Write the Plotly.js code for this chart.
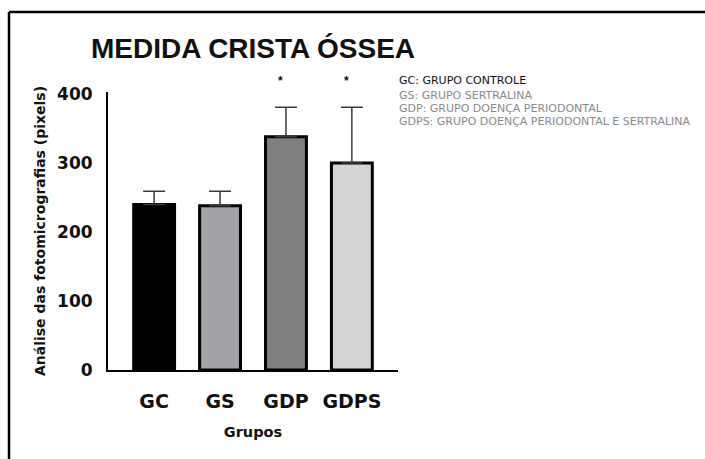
<!DOCTYPE html>
<html>
<head>
<meta charset="utf-8">
<script src="https://cdn.plot.ly/plotly-3.0.1.min.js"></script>
<style>
  html, body { margin: 0; padding: 0; background: #ffffff; }
  #chart { width: 705px; height: 459px; }
</style>
</head>
<body>
<div id="chart"></div>
<script>
// Groups and mean crest measurements (pixels) with upper error
const groups = ['GC', 'GS', 'GDP', 'GDPS'];
const means = [240, 238, 338, 300];
const errorsUp = [19, 21, 43, 81];
const barColors = ['#000000', '#a2a2a7', '#7f7f7f', '#d4d4d4'];
const significant = [false, false, true, true];
const yTicks = [0, 100, 200, 300, 400];
const legendLines = [
  'GC: GRUPO CONTROLE',
  'GS: GRUPO SERTRALINA',
  'GDP: GRUPO DOENÇA PERIODONTAL',
  'GDPS: GRUPO DOENÇA PERIODONTAL E SERTRALINA'
];

const W = 705, H = 459;
const M = { l: 108, r: 307, t: 92, b: 89 };
const plotW = W - M.l - M.r;
const plotH = H - M.t - M.b;
// convert page pixels to paper coordinates
const px = x => (x - M.l) / plotW;
const py = y => (H - M.b - y) / plotH;

const trace = {
  type: 'bar',
  x: groups,
  y: means,
  width: 0.62,
  marker: {
    color: barColors,
    line: { color: '#000000', width: 3 }
  },
  error_y: {
    type: 'data',
    symmetric: false,
    array: errorsUp,
    arrayminus: groups.map(() => 0),
    color: '#3a3a3a',
    thickness: 1.5,
    width: 11
  },
  hoverinfo: 'skip'
};

const annotations = [];
groups.forEach((g, i) => {
  if (significant[i]) {
    annotations.push({
      x: g, y: means[i] + errorsUp[i], xref: 'x', yref: 'y',
      text: '*', showarrow: false, xshift: -5, yshift: 26,
      yanchor: 'middle',
      font: { family: 'Liberation Sans, Arial, sans-serif', size: 12, color: '#111111', weight: 'bold' }
    });
  }
});
const legendY = [80, 95, 108, 121];
legendLines.forEach((t, i) => {
  annotations.push({
    x: px(397), y: py(legendY[i]), xref: 'paper', yref: 'paper',
    xanchor: 'left', yanchor: 'middle', showarrow: false, text: t,
    font: { family: 'DejaVu Sans, sans-serif', size: 11, color: i === 0 ? '#111111' : '#8a8a8a' }
  });
});

const layout = {
  width: W, height: H,
  margin: M,
  paper_bgcolor: '#ffffff',
  plot_bgcolor: '#ffffff',
  showlegend: false,
  title: {
    text: 'MEDIDA CRISTA ÓSSEA',
    x: 0.5, xref: 'paper', xanchor: 'center',
    y: 1 - 48 / H, yref: 'container', yanchor: 'middle',
    font: { family: 'Liberation Sans, Arial, sans-serif', size: 28, color: '#111111', weight: 'bold' }
  },
  xaxis: {
    type: 'category',
    range: [-0.7, 3.7],
    showline: true, linecolor: '#000000', linewidth: 2,
    showgrid: false, zeroline: false, ticks: '',
    ticklabelstandoff: 13,
    tickfont: { family: 'DejaVu Sans, sans-serif', size: 19, color: '#111111', weight: 'bold' },
    title: {
      text: 'Grupos', standoff: 16,
      font: { family: 'DejaVu Sans, sans-serif', size: 14.5, color: '#111111', weight: 'bold' }
    },
    fixedrange: true
  },
  yaxis: {
    range: [0, 403],
    tickvals: yTicks,
    showline: true, linecolor: '#000000', linewidth: 2,
    showgrid: false, zeroline: false, ticks: '',
    ticklabelstandoff: 10,
    tickfont: { family: 'DejaVu Sans, sans-serif', size: 17, color: '#111111', weight: 'bold' },
    title: {
      text: 'Análise das fotomicrografias (pixels)', standoff: 8,
      font: { family: 'DejaVu Sans, sans-serif', size: 14, color: '#111111', weight: 'bold' }
    },
    fixedrange: true
  },
  annotations: annotations,
  shapes: [
    // frame: top and left edges
    { type: 'line', xref: 'paper', yref: 'paper', x0: px(9), x1: px(706), y0: py(12), y1: py(12),
      line: { color: '#000000', width: 2.5 } },
    { type: 'line', xref: 'paper', yref: 'paper', x0: px(9), x1: px(9), y0: py(12), y1: py(460),
      line: { color: '#000000', width: 2.5 } }
  ]
};

Plotly.newPlot('chart', [trace], layout, { displayModeBar: false, staticPlot: true });
</script>
</body>
</html>
